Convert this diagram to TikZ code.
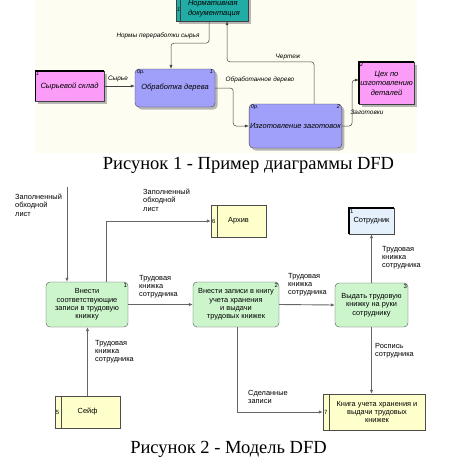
\documentclass[tikz,border=0pt]{standalone}
\usepackage{fontspec}
\setmainfont{Liberation Serif}
\setsansfont{Liberation Sans}
\usepackage{tikz}
\usetikzlibrary{arrows.meta,positioning,shadows,calc}
\definecolor{dfdcream}{HTML}{FEFDF1}
\definecolor{dfdteal}{HTML}{22ACA6}
\definecolor{dfdpink}{HTML}{FB9CF8}
\definecolor{dfdblue}{HTML}{A0A0FA}
\definecolor{dfdgreen}{HTML}{CCF5CC}
\definecolor{dfdyellow}{HTML}{FFFFCC}
\definecolor{dfdsky}{HTML}{E4F1FD}
\definecolor{dfdline}{HTML}{666666}
\tikzset{
  dropsh/.style={drop shadow={shadow xshift=2.5pt, shadow yshift=-2.5pt, fill=black!35, opacity=.8}},
  proc/.style={rectangle, rounded corners=4pt, draw=black!75, fill=dfdblue, dropsh,
               align=center, font=\sffamily\itshape\fontsize{7.5}{9}\selectfont, inner sep=1pt},
  ext/.style={rectangle, draw=black!75, fill=dfdpink, dropsh,
              align=center, font=\sffamily\itshape\fontsize{7.6}{9.5}\selectfont, inner sep=1pt},
  dstore/.style={rectangle, draw=black!75, fill=dfdteal, dropsh,
                 align=left, font=\sffamily\itshape\fontsize{7.5}{10}\selectfont, inner sep=1pt},
  task/.style={rectangle, rounded corners=4pt, draw=black!70, fill=dfdgreen,
               align=center, font=\sffamily\fontsize{7.4}{8.3}\selectfont, inner sep=1pt},
  shelf/.style={rectangle, draw=black!70, fill=dfdyellow,
                align=center, font=\sffamily\fontsize{7.4}{8.3}\selectfont, inner sep=1pt},
  person/.style={rectangle, draw=black!70, fill=dfdsky,
                 align=center, font=\sffamily\fontsize{7.4}{8.3}\selectfont, inner sep=1pt},
  corner/.style={inner sep=1pt, font=\sffamily\itshape\fontsize{5.5}{6}\selectfont},
  num/.style={inner sep=1pt, font=\sffamily\fontsize{6}{6}\selectfont},
  tag/.style={inner sep=0pt, font=\sffamily\itshape\fontsize{6.4}{7}\selectfont},
  note/.style={inner sep=0pt, align=left, anchor=north west, font=\sffamily\fontsize{7.4}{8.3}\selectfont},
  flow/.style={-{Latex[length=4pt,width=3pt]}, draw=black!75, line width=.5pt, rounded corners=3pt},
  flowb/.style={-{Latex[length=4pt,width=3.5pt]}, draw=dfdline, line width=.9pt},
  figcap/.style={font=\fontsize{18.5}{20}\selectfont},
}
\begin{document}
\begin{tikzpicture}[x=1pt,y=-1pt]
\useasboundingbox (0,0) rectangle (454,464);

% ---------- figure 1 ----------
\fill[dfdcream] (35,0) rectangle (417,153);
\begin{scope}
\clip (35,0) rectangle (454,153);
\node[dstore,minimum width=72pt,minimum height=24pt,text width=60pt] (doc) at (212,9)
  {\hspace*{6pt}Нормативная\\\hspace*{6pt}документация};
\draw[black!75] ([xshift=4pt]doc.north west) -- ([xshift=4pt]doc.south west);
\node[corner,anchor=west] (docn) at ([yshift=-1pt]doc.west) {1};

\node[ext,minimum width=69pt,minimum height=30pt] (sklad) at (69.5,86) {Сырьевой склад};
\draw[line width=1.4pt] (sklad.south west) |- (sklad.north east);
\node[corner,anchor=north west] (skladn) at (sklad.north west) {1};
\end{scope}

\node[proc,minimum width=80pt,minimum height=38pt] (p1) at (175,88) {Обработка дерева};
\node[corner,anchor=north west] (p1a) at ([xshift=1pt]p1.north west) {0р.};
\node[corner,anchor=north east] (p1b) at ([xshift=-1pt]p1.north east) {1};

\node[proc,minimum width=87pt,minimum height=44pt] (p2) at (295.5,126) {Изготовление заготовок};
\node[corner,anchor=north west] (p2a) at ([xshift=1pt]p2.north west) {0р.};
\node[corner,anchor=north east] (p2b) at ([xshift=-1pt]p2.north east) {2};

\node[ext,minimum width=55pt,minimum height=42pt] (ceh) at (386.5,83)
  {Цех по\\изготовлению\\деталей};
\draw[line width=1.4pt] (ceh.south west) |- (ceh.north east);
\node[corner,anchor=north west] (cehn) at (ceh.north west) {2};

\draw[flow] (sklad.east) -- (sklad.east -| p1.west);
\draw[flow] ([xshift=-3pt]doc.south) -- ++(0,22) -| ([xshift=-4pt]p1.north);
\draw[flow] ([xshift=18.5pt]p2.north) -- ++(0,-42) -| ([xshift=15pt]doc.south);
\draw[flow] (p1.east) -- ++(18,0) |- (p2.west);
\draw[flow] (p2.east) -- ++(10,0) |- ([yshift=3pt]ceh.west);

\node[tag] (t1) at (118,79) {Сырье};
\node[tag] (t2) at (158,36) {Нормы переработки сырья};
\node[tag] (t3) at (288,57) {Чертеж};
\node[tag] (t4) at (260,80) {Обработанное дерево};
\node[tag] (t5) at (367,112) {Заготовки};

\node[figcap] (cap1) at (248.5,165) {Рисунок 1 - Пример диаграммы DFD};

% ---------- figure 2 ----------
\node[task,minimum width=82pt,minimum height=45pt] (a1) at (87,304.5)
  {Внести\\соответствующие\\записи в трудовую\\книжку};
\node[num,anchor=north east] (a1n) at (a1.north east) {1};
\node[task,minimum width=86pt,minimum height=45pt] (a2) at (236,304.5)
  {Внести записи в книгу\\учета хранения\\и выдачи\\трудовых книжек};
\node[num,anchor=north east] (a2n) at (a2.north east) {2};
\node[task,minimum width=73pt,minimum height=44pt] (a3) at (371.5,305)
  {Выдать трудовую\\книжку на руки\\сотруднику};
\node[num,anchor=north east] (a3n) at (a3.north east) {3};

\node[shelf,minimum width=55pt,minimum height=32pt] (arch) at (238.5,221) {Архив};
\draw[black!70] ([xshift=6pt]arch.north west) -- ([xshift=6pt]arch.south west);
\node[num,anchor=west] (archn) at (arch.west) {6};

\node[person,minimum width=45pt,minimum height=26pt] (sotr) at (371.5,221) {Сотрудник};
\draw[line width=1.4pt] (sotr.south west) |- (sotr.north east);
\node[num,anchor=north west] (sotrn) at (sotr.north west) {1};

\node[shelf,minimum width=65pt,minimum height=32pt] (seif) at (87.5,412) {Сейф};
\draw[black!70] ([xshift=6pt]seif.north west) -- ([xshift=6pt]seif.south west);
\node[num,anchor=west] (seifn) at (seif.west) {5};

\node[shelf,minimum width=102pt,minimum height=36pt] (kniga) at (374,412)
  {\hspace*{6pt}Книга учета хранения и\\\hspace*{6pt}выдачи трудовых\\\hspace*{6pt}книжек};
\draw[black!70] ([xshift=6pt]kniga.north west) -- ([xshift=6pt]kniga.south west);
\node[num,anchor=west] (knigan) at (kniga.west) {7};

\coordinate (src) at (67,187);
\draw[flowb] (src) -- (src |- a1.north);
\draw[flowb] ([xshift=19pt]a1.north) |- (arch.west);
\draw[flowb] (a1.east) -- (a2.west);
\draw[flowb] (a2.east) -- (a3.west);
\draw[flowb] (a3.north) -- (sotr.south);
\draw[flowb] (seif.north) -- (seif.north |- a1.south);
\draw[flowb] ([xshift=1pt]a2.south) |- (kniga.west);
\draw[flowb] (a3.south) -- (a3.south |- kniga.north);

\node[note] (n1) at (15,194) {Заполненный\\обходной\\лист};
\node[note] (n2) at (143,189) {Заполненный\\обходной\\лист};
\node[note] (n3) at (139,275) {Трудовая\\книжка\\сотрудника};
\node[note] (n4) at (288,273) {Трудовая\\книжка\\сотрудника};
\node[note] (n5) at (382,246) {Трудовая\\книжка\\сотрудника};
\node[note] (n6) at (95,340) {Трудовая\\книжка\\сотрудника};
\node[note] (n7) at (375,343) {Роспись\\сотрудника};
\node[note] (n8) at (248,390) {Сделанные\\записи};

\node[figcap] (cap2) at (228.5,449) {Рисунок 2 - Модель DFD};
\end{tikzpicture}
\end{document}
